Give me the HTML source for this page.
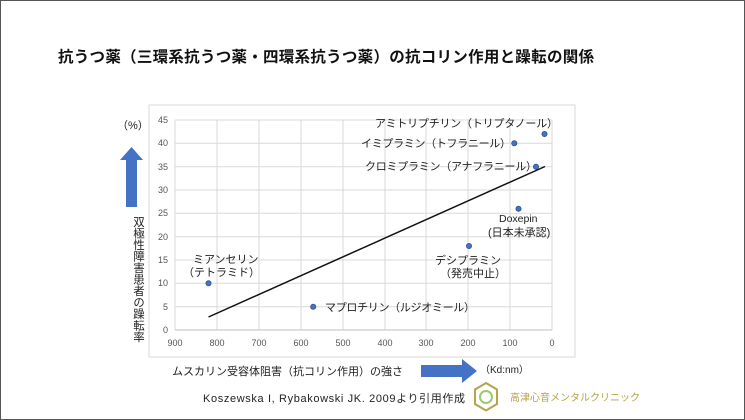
<!DOCTYPE html><html><head><meta charset="utf-8"><style>
body{margin:0;width:745px;height:420px;background:#fff;overflow:hidden;font-family:"Liberation Sans","Noto Sans CJK JP",sans-serif;}
.f{position:absolute;left:0;top:0;width:743px;height:418px;border:1px solid #555;}
</style></head><body><div class="f"></div>
<svg width="745" height="420" style="position:absolute;left:0;top:0" font-family="Liberation Sans, Noto Sans CJK JP, sans-serif">
<text x="58" y="62" font-size="15.5" font-weight="bold" fill="#111" textLength="536">抗うつ薬（三環系抗うつ薬・四環系抗うつ薬）の抗コリン作用と躁転の関係</text>
<rect x="149" y="105" width="426" height="252" fill="#fff" stroke="#d9d9d9"/>
<g stroke="#d9d9d9" stroke-width="1">
<line x1="175" y1="120" x2="552" y2="120"/><line x1="175" y1="143.3" x2="552" y2="143.3"/><line x1="175" y1="166.7" x2="552" y2="166.7"/><line x1="175" y1="190" x2="552" y2="190"/><line x1="175" y1="213.3" x2="552" y2="213.3"/><line x1="175" y1="236.7" x2="552" y2="236.7"/><line x1="175" y1="260" x2="552" y2="260"/><line x1="175" y1="283.3" x2="552" y2="283.3"/><line x1="175" y1="306.7" x2="552" y2="306.7"/>
<line x1="175" y1="120" x2="175" y2="330"/><line x1="217" y1="120" x2="217" y2="330"/><line x1="259" y1="120" x2="259" y2="330"/><line x1="301" y1="120" x2="301" y2="330"/><line x1="343" y1="120" x2="343" y2="330"/><line x1="385" y1="120" x2="385" y2="330"/><line x1="426" y1="120" x2="426" y2="330"/><line x1="468" y1="120" x2="468" y2="330"/><line x1="510" y1="120" x2="510" y2="330"/><line x1="552" y1="120" x2="552" y2="330"/>
</g>
<line x1="175" y1="330" x2="552" y2="330" stroke="#bfbfbf"/>
<g font-size="9" fill="#555" text-anchor="end">
<text x="168" y="123">45</text><text x="168" y="146">40</text><text x="168" y="170">35</text><text x="168" y="193">30</text><text x="168" y="216">25</text><text x="168" y="240">20</text><text x="168" y="263">15</text><text x="168" y="286">10</text><text x="168" y="310">5</text><text x="168" y="333">0</text></g>
<g font-size="9" fill="#555" text-anchor="middle">
<text x="175" y="346">900</text><text x="217" y="346">800</text><text x="259" y="346">700</text><text x="301" y="346">600</text><text x="343" y="346">500</text><text x="385" y="346">400</text><text x="426" y="346">300</text><text x="468" y="346">200</text><text x="510" y="346">100</text><text x="552" y="346">0</text></g>
<line x1="208.5" y1="317" x2="545" y2="166.5" stroke="#111" stroke-width="1.5"/>
<g fill="#4472c4" stroke="#2f528f" stroke-width="0.8">
<circle cx="208.5" cy="283.3" r="2.6"/><circle cx="313.2" cy="306.7" r="2.6"/><circle cx="469" cy="246" r="2.6"/><circle cx="518.5" cy="208.7" r="2.6"/><circle cx="536" cy="166.7" r="2.6"/><circle cx="514.3" cy="143.3" r="2.6"/><circle cx="544.5" cy="134" r="2.6"/></g>
<g font-size="11" fill="#222">
<text x="375" y="127" textLength="183">アミトリプチリン（トリプタノール）</text>
<text x="361" y="147" textLength="150">イミプラミン（トフラニール）</text>
<text x="365" y="170" textLength="172">クロミプラミン（アナフラニール）</text>
<text x="499" y="222" font-size="10.5">Doxepin</text>
<text x="488" y="236">(日本未承認)</text>
<text x="435" y="264">デシプラミン</text>
<text x="440" y="277">（発売中止）</text>
<text x="193" y="263">ミアンセリン</text>
<text x="183" y="276">（テトラミド）</text>
<text x="325" y="311" textLength="150">マプロチリン（ルジオミール）</text>
<text x="117" y="129">（%）</text>
</g>
<polygon points="126,207 137,207 137,160 143,160 131.5,147 120,160 126,160" fill="#4472c4"/>
<text font-size="11.5" fill="#222" writing-mode="tb" x="138" y="216">双極性障害患者の躁転率</text>
<text x="172" y="375" font-size="11" fill="#222">ムスカリン受容体阻害（抗コリン作用）の強さ</text>
<polygon points="421,365 462,365 462,359 477,371 462,383 462,377 421,377" fill="#4472c4"/>
<text x="480" y="373" font-size="10" fill="#222">（Kd:nm）</text>
<text x="203" y="402" font-size="11" fill="#222" textLength="262">Koszewska I, Rybakowski  JK. 2009より引用作成</text>
<polygon points="486,383 497,389.5 497,404 486,410.5 475,404 475,389.5" fill="#fff" stroke="#b8a24a" stroke-width="2"/>
<circle cx="486" cy="397" r="6" fill="none" stroke="#9ccc6a" stroke-width="2"/>
<text x="510" y="401" font-size="10" fill="#b5a247">高津心音メンタルクリニック</text>
</svg></body></html>
